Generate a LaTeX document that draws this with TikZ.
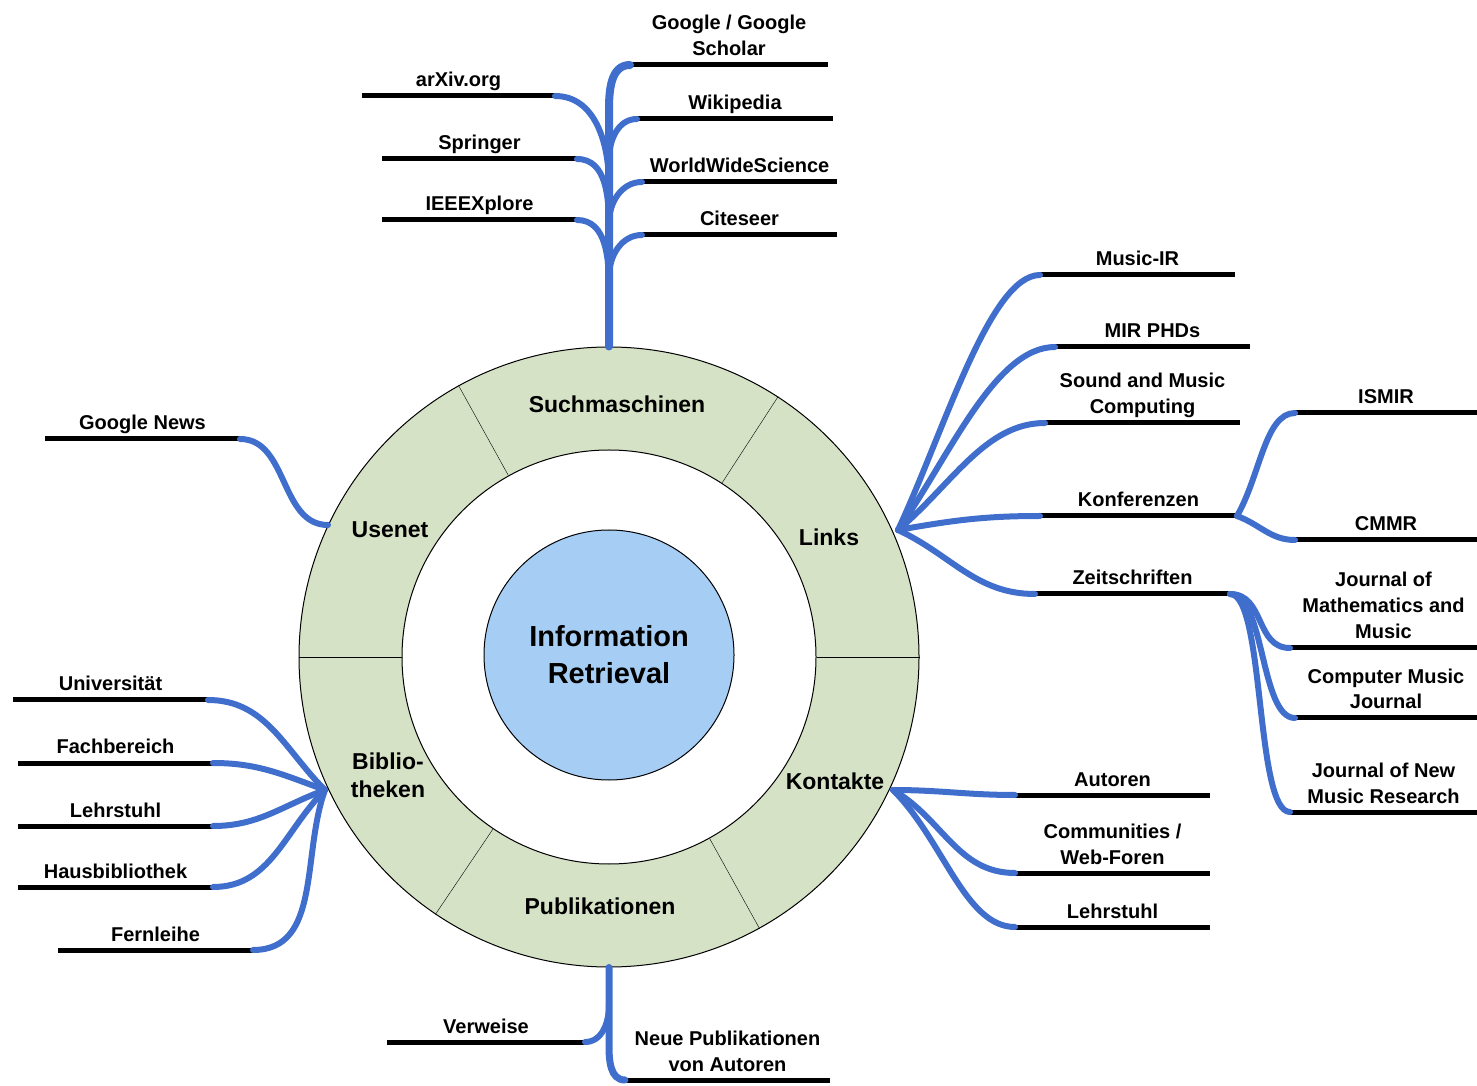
\documentclass[tikz,border=0pt]{standalone}
\usepackage{fontspec}
\setmainfont{Liberation Sans}
\definecolor{ringgreen}{RGB}{214,226,198}
\definecolor{corefill}{RGB}{166,206,245}
\definecolor{branchblue}{RGB}{64,110,205}
\begin{document}
\begin{tikzpicture}[x=1pt,y=1pt,
    leaf/.style={line width=5pt},
    twig/.style={line width=6pt,branchblue,line cap=round},
    lbl/.style={font=\bfseries\fontsize{20}{26}\selectfont,align=center,inner sep=2pt,text depth=.25em,above=2pt},
    seg/.style={font=\bfseries\fontsize{23}{28}\selectfont,align=center}]
\useasboundingbox (0,0) rectangle (1477,1085);
% Ring and core
\node[circle,draw,fill=ringgreen,minimum size=620pt,line width=1pt] (ring) at (609,428) {};
\node[circle,draw,fill=white,minimum size=414pt,line width=1pt] (hole) at (609,428) {};
\node[circle,draw,fill=corefill,minimum size=250pt,line width=1pt,font=\bfseries\fontsize{29}{37}\selectfont,align=center] (ir) at (609,430) {Information\\Retrieval};
\draw (hole.0) -- (ring.0);
\draw (hole.57) -- (ring.57);
\draw (hole.119) -- (ring.119);
\draw (hole.180) -- (ring.180);
\draw (hole.236) -- (ring.236);
\draw (hole.299.5) -- (ring.299.5);
\node[seg] (such) at (617,681) {Suchmaschinen};
\node[seg] (links) at (829,548) {Links};
\node[seg] (usenet) at (390,555) {Usenet};
\node[seg] (biblio) at (388,310) {Biblio-\\theken};
\node[seg] (kontakte) at (835,304) {Kontakte};
\node[seg] (publ) at (600,179) {Publikationen};
% Hubs
\coordinate (hubL) at (898,555);
\coordinate (hubU) at (328,560);
\coordinate (hubB) at (325,295);
\coordinate (hubK) at (893,295);
% Suchmaschinen
\draw[leaf] (630,1020) coordinate (googleA) -- node[lbl] (google) {Google / Google\\Scholar} (828,1020);
\draw[leaf] (637,966) coordinate (wikiA) -- node[lbl] (wiki) {Wikipedia} (833,966);
\draw[leaf] (642,903) coordinate (wwsA) -- node[lbl] (wws) {WorldWideScience} (837,903);
\draw[leaf] (642,850) coordinate (citeA) -- node[lbl] (cite) {Citeseer} (837,850);
\draw[leaf] (362,989) -- node[lbl] (arxiv) {arXiv.org} (555,989) coordinate (arxivB);
\draw[leaf] (382,926) -- node[lbl] (springer) {Springer} (577,926) coordinate (springerB);
\draw[leaf] (382,865) -- node[lbl] (ieee) {IEEEXplore} (577,865) coordinate (ieeeB);
\draw[twig,line width=8pt] (ring.north) -- (609,975) to[out=90,in=180] (googleA);
\draw[twig] (609,925) coordinate (s1) to[out=90,in=180] (wikiA);
\draw[twig] (609,862) coordinate (s2) to[out=90,in=180] (wwsA);
\draw[twig] (609,808) coordinate (s3) to[out=90,in=180] (citeA);
\draw[twig] (609,900) coordinate (s4) to[out=90,in=0] (arxivB);
\draw[twig] (609,855) coordinate (s5) to[out=90,in=0] (springerB);
\draw[twig] (609,795) coordinate (s6) to[out=90,in=0] (ieeeB);
% Usenet
\draw[leaf] (45,646) -- node[lbl] (gnews) {Google News} (240,646) coordinate (gnewsB);
\draw[twig] (gnewsB) to[out=0,in=180] (hubU);
% Bibliotheken
\draw[leaf] (13,385) -- node[lbl] (uni) {Universität} (208,385) coordinate (uniB);
\draw[leaf] (18,322) -- node[lbl] (fach) {Fachbereich} (213,322) coordinate (fachB);
\draw[leaf] (18,259) -- node[lbl] (lehr) {Lehrstuhl} (213,259) coordinate (lehrB);
\draw[leaf] (18,198) -- node[lbl] (haus) {Hausbibliothek} (213,198) coordinate (hausB);
\draw[leaf] (58,135) -- node[lbl] (fern) {Fernleihe} (253,135) coordinate (fernB);
\draw[twig] (uniB) to[out=0,in=135] (hubB);
\draw[twig] (fachB) to[out=0,in=160] (hubB);
\draw[twig] (lehrB) to[out=0,in=200] (hubB);
\draw[twig] (hausB) to[out=0,in=225] (hubB);
\draw[twig] (fernB) to[out=0,in=250] (hubB);
% Links
\draw[leaf] (1040,810) coordinate (musicirA) -- node[lbl] (musicir) {Music-IR} (1235,810);
\draw[leaf] (1055,738) coordinate (phdA) -- node[lbl] (phd) {MIR PHDs} (1250,738);
\draw[leaf] (1045,662) coordinate (smcA) -- node[lbl] (smc) {Sound and Music\\Computing} (1240,662);
\draw[leaf] (1040,569) coordinate (konfA) -- node[lbl] (konf) {Konferenzen} (1237,569) coordinate (konfB);
\draw[leaf] (1035,491) coordinate (zeitA) -- node[lbl] (zeit) {Zeitschriften} (1230,491) coordinate (zeitB);
\draw[leaf] (1295,672) coordinate (ismirA) -- node[lbl] (ismir) {ISMIR} (1477,672);
\draw[leaf] (1295,545) coordinate (cmmrA) -- node[lbl] (cmmr) {CMMR} (1477,545);
\draw[leaf] (1290,437) coordinate (jmmA) -- node[lbl] (jmm) {Journal of\\Mathematics and\\Music} (1477,437);
\draw[leaf] (1295,367) coordinate (cmjA) -- node[lbl] (cmj) {Computer Music\\Journal} (1477,367);
\draw[leaf] (1290,273) coordinate (jnmrA) -- node[lbl] (jnmr) {Journal of New\\Music Research} (1477,273);
\draw[twig] (hubL) to[out=65,in=180,out distance=110,in distance=50] (musicirA);
\draw[twig] (hubL) to[out=55,in=180,out distance=90,in distance=60] (phdA);
\draw[twig] (hubL) to[out=40,in=180,out distance=70,in distance=60] (smcA);
\draw[twig] (hubL) to[out=10,in=180] (konfA);
\draw[twig] (hubL) to[out=-25,in=180] (zeitA);
\draw[twig] (konfB) to[out=60,in=180,in distance=30] (ismirA);
\draw[twig] (konfB) to[out=-20,in=180] (cmmrA);
\draw[twig] (zeitB) to[out=0,in=180,distance=35] (jmmA);
\draw[twig] (zeitB) to[out=0,in=180,distance=35] (cmjA);
\draw[twig] (zeitB) to[out=0,in=180,distance=35] (jnmrA);
% Kontakte
\draw[leaf] (1015,290) coordinate (autA) -- node[lbl] (aut) {Autoren} (1210,290);
\draw[leaf] (1015,212) coordinate (commA) -- node[lbl] (comm) {Communities /\\Web-Foren} (1210,212);
\draw[leaf] (1015,158) coordinate (lehrKA) -- node[lbl] (lehrK) {Lehrstuhl} (1210,158);
\draw[twig] (hubK) to[out=0,in=180] (autA);
\draw[twig] (hubK) to[out=-30,in=180] (commA);
\draw[twig] (hubK) to[out=-45,in=180,in distance=50] (lehrKA);
% Publikationen
\draw[leaf] (387,43) -- node[lbl] (verw) {Verweise} (585,43) coordinate (verwB);
\draw[leaf] (625,5) coordinate (neueA) -- node[lbl] (neue) {Neue Publikationen\\von Autoren} (830,5);
\draw[twig,line width=7pt] (ring.south) -- (609,40) to[out=-90,in=180] (neueA);
\draw[twig] (609,80) coordinate (s7) to[out=-90,in=0] (verwB);
\end{tikzpicture}
\end{document}
